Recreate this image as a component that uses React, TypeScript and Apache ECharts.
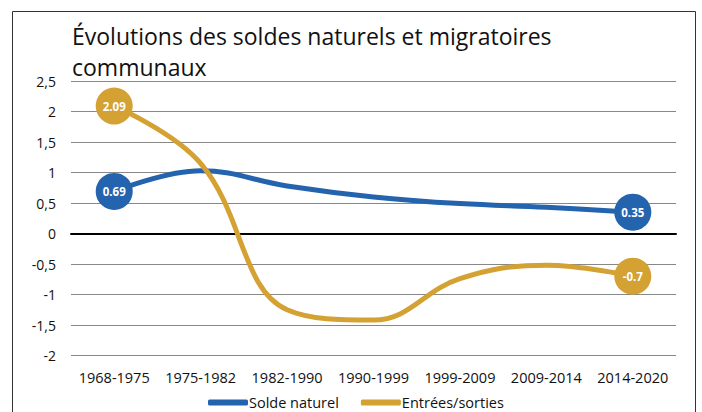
import React, { useEffect, useRef } from "react";
import * as echarts from "echarts";

const categories = ["1968-1975", "1975-1982", "1982-1990", "1990-1999", "1999-2009", "2009-2014", "2014-2020"];
const soldeNaturel = [0.69, 1.03, 0.78, 0.6, 0.49, 0.43, 0.35];
const entreesSorties = [2.09, 1.15, -1.25, -1.42, -0.74, -0.52, -0.7];
const titleText = "Évolutions des soldes naturels et migratoires\ncommunaux";

const FONT = "'Open Sans', 'Noto Sans', sans-serif";

export default function App() {
  const ref = useRef<HTMLDivElement>(null);
  useEffect(() => {
    if (!ref.current) return;
    const chart = echarts.init(ref.current, null, { renderer: "svg" });
    const last = categories.length - 1;
    const mk = (name: string, data: number[], color: string) => ({
      name,
      type: "line",
      data,
      smooth: 0.4,
      symbol: "circle",
      symbolSize: (_v: number, p: any) => (p.dataIndex === 0 || p.dataIndex === last ? 37 : 0),
      itemStyle: { color },
      lineStyle: { color, width: 5 },
      label: {
        show: true,
        position: "inside",
        color: "#fff",
        fontWeight: "bold",
        fontSize: 11.5,
        fontFamily: FONT,
        formatter: (p: any) => (p.dataIndex === 0 || p.dataIndex === last ? String(p.value) : ""),
      },
      emphasis: { disabled: true },
      z: 3,
    });
    chart.setOption({
      animation: false,
      graphic: [
        {
          type: "rect",
          shape: { x: 12.5, y: 11.5, width: 683, height: 420 },
          style: { fill: "none", stroke: "#333", lineWidth: 1 },
          silent: true,
        },
      ],
      title: {
        text: titleText,
        left: 67,
        top: 15,
        textStyle: { fontFamily: FONT, fontSize: 23, fontWeight: "normal", color: "#111", lineHeight: 31 },
      },
      grid: { left: 71, right: 26, top: 81, bottom: 56.5, containLabel: false },
      xAxis: {
        type: "category",
        data: categories,
        boundaryGap: true,
        axisLine: { show: true, onZero: true, lineStyle: { color: "#000", width: 2 } },
        axisTick: { show: false },
        axisLabel: {
          interval: 0,
          hideOverlap: false,
          fontFamily: FONT,
          fontSize: 14.5,
          color: "#111",
          margin: 0,
          verticalAlign: "top",
          padding: [14, 0, 0, 0],
        },
        splitLine: { show: false },
      },
      yAxis: {
        type: "value",
        min: -2,
        max: 2.5,
        interval: 0.5,
        axisLine: { show: false },
        axisTick: { show: false },
        axisLabel: {
          fontFamily: FONT,
          fontSize: 14,
          color: "#111",
          margin: 15,
          formatter: (v: number) => String(v).replace(".", ","),
        },
        splitLine: { lineStyle: { color: "#888", width: 1 } },
      },
      legend: {
        bottom: -3,
        left: 203,
        itemWidth: 40,
        itemHeight: 6,
        itemGap: 22,
        icon: "roundRect",
        textStyle: { fontFamily: FONT, fontSize: 14.5, color: "#111", padding: [0, 0, 0, -4] },
        data: ["Solde naturel", "Entrées/sorties"],
      },
      series: [
        mk("Solde naturel", soldeNaturel, "#2463ad"),
        mk("Entrées/sorties", entreesSorties, "#d4a133"),
      ],
    });
    return () => chart.dispose();
  }, []);
  return <div ref={ref} style={{ width: 702, height: 412, position: "absolute", left: 0, top: 0, background: "#fff" }} />;
}
